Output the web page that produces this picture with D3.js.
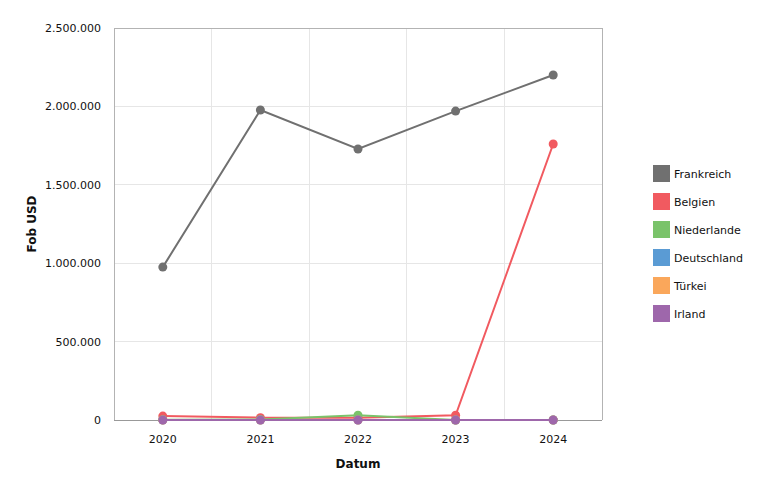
<!DOCTYPE html>
<html><head><meta charset="utf-8">
<script src="https://cdn.jsdelivr.net/npm/d3@7"></script>
<style>body{margin:0;background:#fff}text{font-family:"DejaVu Sans",Verdana,sans-serif}</style>
</head><body><svg id="c" width="758" height="480"></svg>
<script>
const years = ["2020","2021","2022","2023","2024"];
const seriesNames = ["Frankreich","Belgien","Niederlande","Deutschland","Türkei","Irland"];
const colors = ["#707070","#f15a60","#7ac36a","#5a9bd4","#faa75b","#9e67ab"];
const frankreich = [975000,1977000,1728000,1970000,2200000];
const belgien = [25000,15000,15000,30000,1760000];
const niederlande = [2000,3000,30000,0,0];
const deutschland = [0,0,0,0,0];
const tuerkei = [0,0,0,0,0];
const irland = [0,0,0,0,0];
const yTicks = [0,500000,1000000,1500000,2000000,2500000];
const values = [frankreich,belgien,niederlande,deutschland,tuerkei,irland];

const svg = d3.select("#c");
const L=114,R=602,T=28,B=420;
const x = d3.scaleBand().domain(years).range([L,R]);
const y = d3.scaleLinear().domain([0,2500000]).range([B,T]);
const fmt = v => d3.format(",")(v).replace(/,/g,".");

// grid
svg.append("g").selectAll("line").data(yTicks.slice(1)).join("line")
  .attr("x1",L).attr("x2",R).attr("y1",d=>y(d)).attr("y2",d=>y(d))
  .attr("stroke","#e6e6e6").attr("stroke-width",1).attr("shape-rendering","crispEdges");
svg.append("g").selectAll("line").data(years.slice(1)).join("line")
  .attr("x1",d=>x(d)).attr("x2",d=>x(d)).attr("y1",T).attr("y2",B)
  .attr("stroke","#e6e6e6").attr("stroke-width",1).attr("shape-rendering","crispEdges");
// frame
svg.append("path").attr("d",`M${L},${B}V${T}H${R}V${B}`).attr("fill","none")
  .attr("stroke","#b3b3b3").attr("shape-rendering","crispEdges");
svg.append("line").attr("x1",L).attr("x2",R).attr("y1",B).attr("y2",B)
  .attr("stroke","#999").attr("shape-rendering","crispEdges");

// axes labels
svg.append("g").selectAll("text").data(yTicks).join("text")
  .attr("x",101).attr("y",d=>y(d)+4).attr("text-anchor","end")
  .attr("font-size",11).attr("fill","#111").text(fmt);
svg.append("g").selectAll("text").data(years).join("text")
  .attr("x",d=>x(d)+x.bandwidth()/2).attr("y",443).attr("text-anchor","middle")
  .attr("font-size",11).attr("fill","#111").text(d=>d);
svg.append("text").attr("x",358).attr("y",468).attr("text-anchor","middle")
  .attr("font-size",12).attr("font-weight","bold").attr("fill","#111").text("Datum");
svg.append("text").attr("transform",`translate(36,${(T+B)/2}) rotate(-90)`)
  .attr("text-anchor","middle").attr("font-size",12).attr("font-weight","bold").attr("fill","#111").text("Fob USD");

// lines
const line = d3.line().x((d,i)=>x(years[i])+x.bandwidth()/2).y(d=>y(d));
seriesNames.forEach((n,k)=>{
  const g = svg.append("g");
  g.append("path").datum(values[k]).attr("d",line).attr("fill","none")
    .attr("stroke",colors[k]).attr("stroke-width",2);
  g.selectAll("circle").data(values[k]).join("circle")
    .attr("cx",(d,i)=>x(years[i])+x.bandwidth()/2).attr("cy",d=>y(d)).attr("r",4.5)
    .attr("fill",colors[k]);
});

// legend
const lg = svg.append("g").selectAll("g").data(seriesNames).join("g")
  .attr("transform",(d,i)=>`translate(653,${165+i*28})`);
lg.append("rect").attr("width",17).attr("height",17).attr("fill",(d,i)=>colors[i]);
lg.append("text").attr("x",21).attr("y",12.5).attr("font-size",11).attr("fill","#111").text(d=>d);
</script></body></html>
